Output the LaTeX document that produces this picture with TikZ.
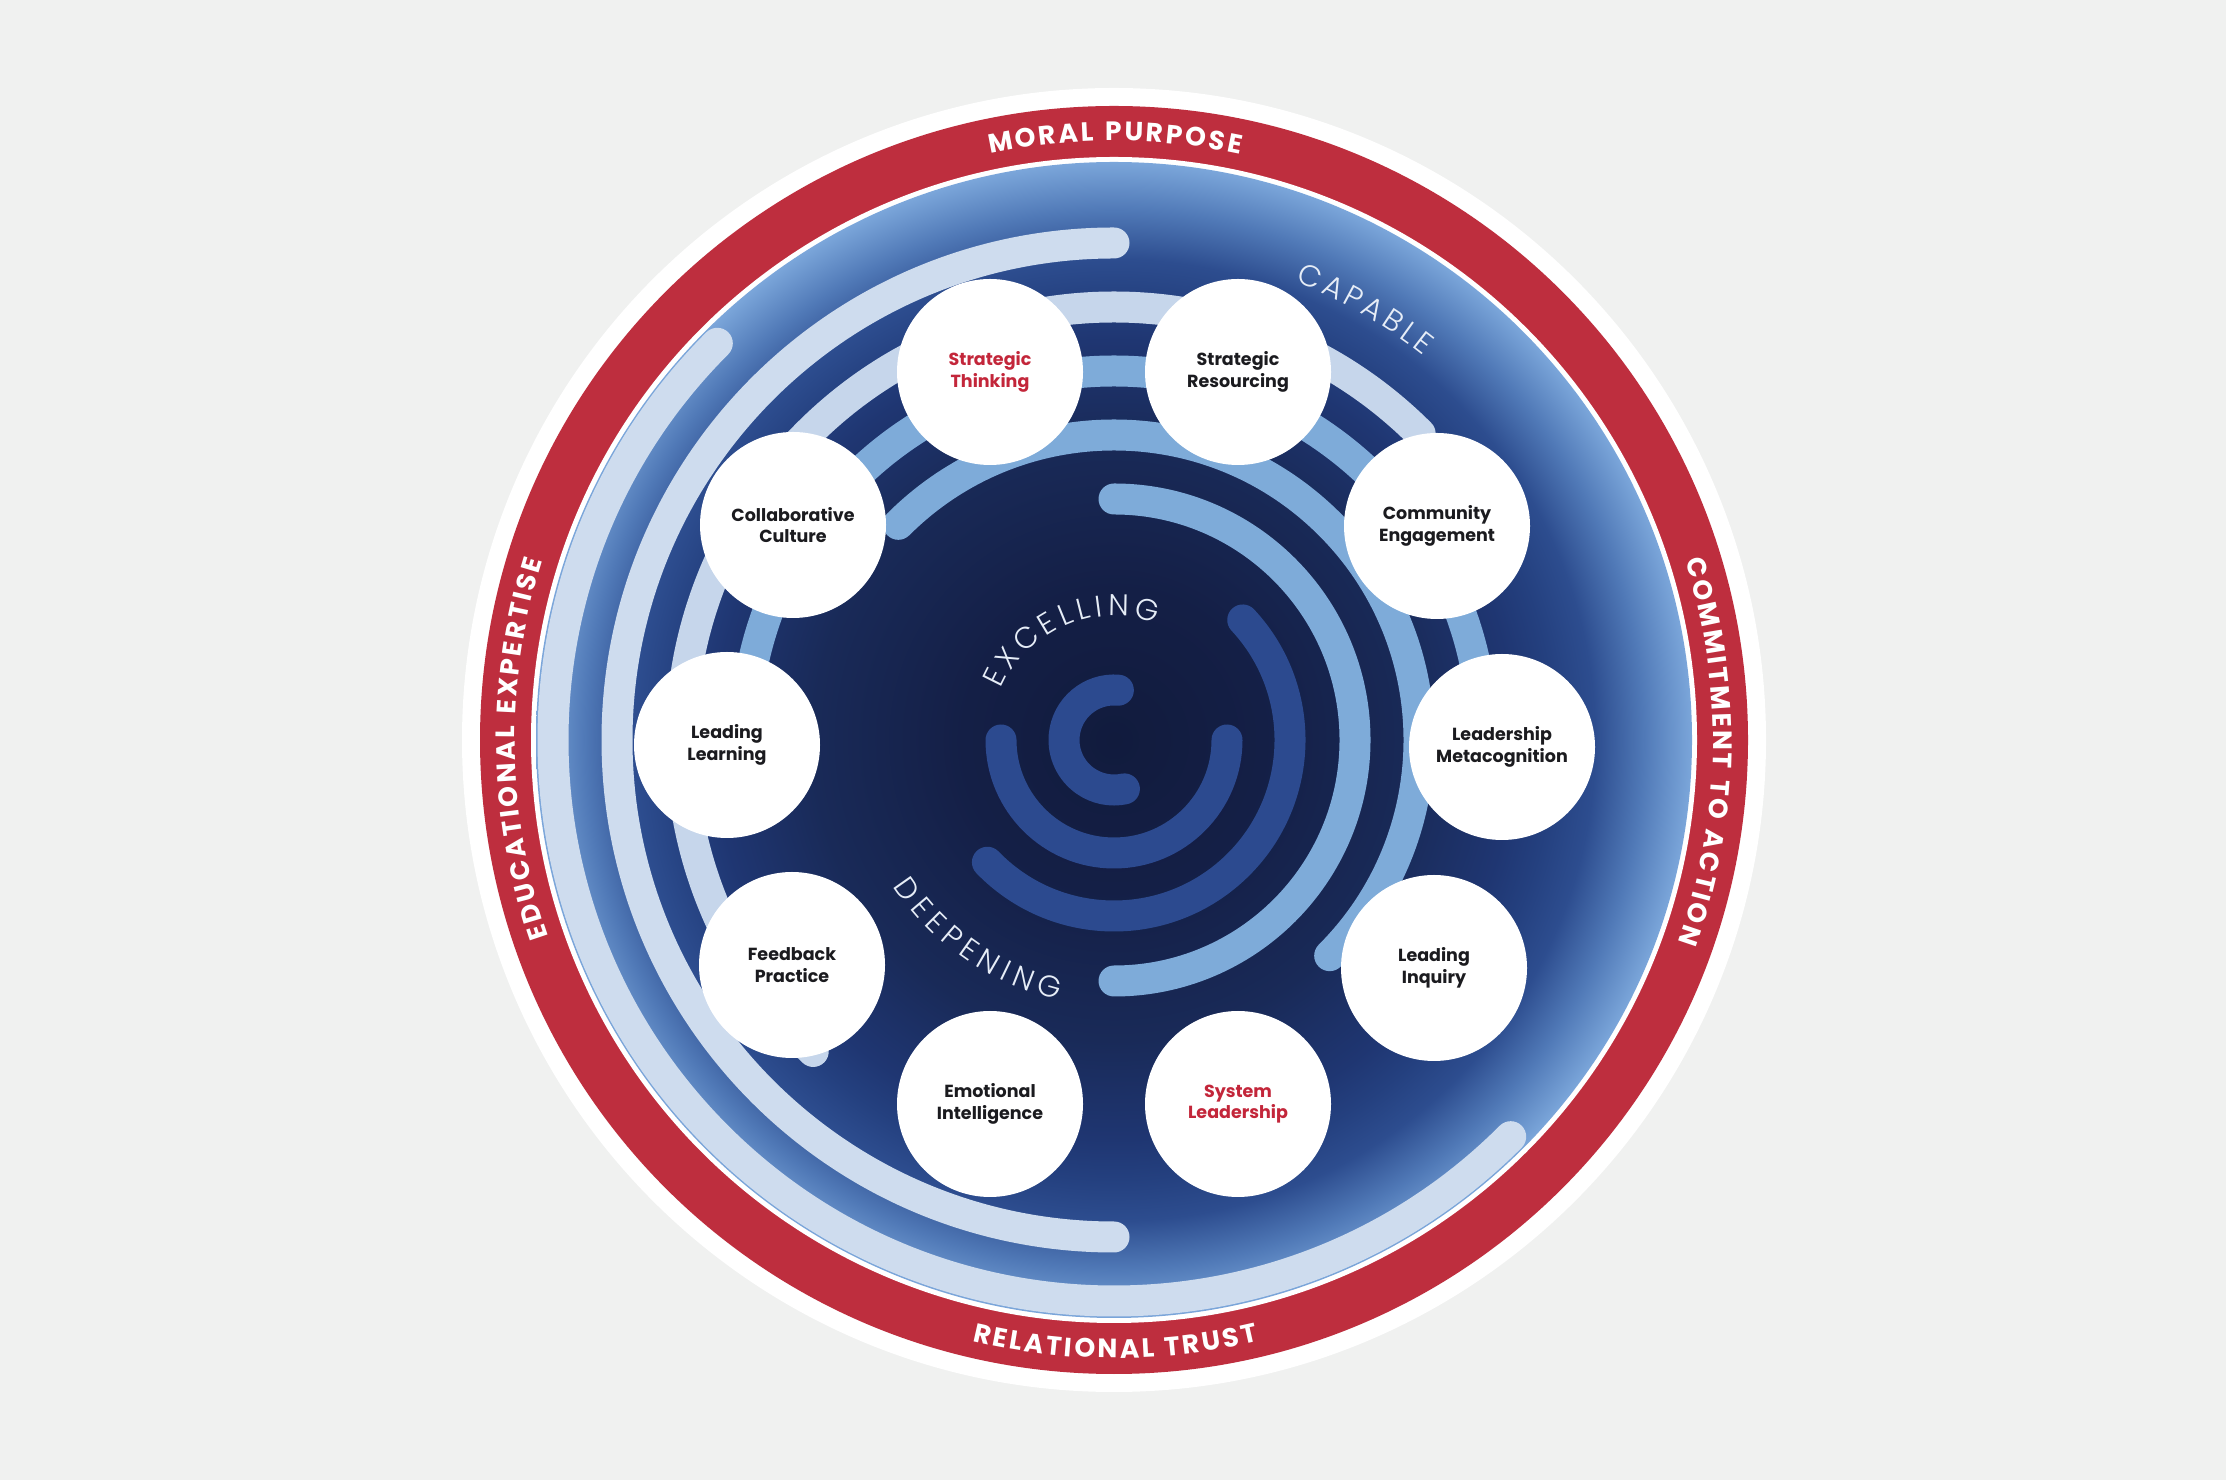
\documentclass[tikz,border=0pt]{standalone}
\usepackage{fontspec}
\setmainfont{Poppins}
\newfontfamily\lightf{Poppins Light}
\usetikzlibrary{decorations.text}
\definecolor{bgc}{HTML}{F0F1F0}
\definecolor{ringred}{HTML}{BE2E3E}
\definecolor{pale}{HTML}{CEDCEE}
\definecolor{paleb}{HTML}{C6D6EB}
\definecolor{lightb}{HTML}{7EABD9}
\definecolor{midb}{HTML}{2C4A8F}
\definecolor{txtred}{HTML}{C3263A}
\definecolor{txtdark}{HTML}{1B1B1F}
\definecolor{lbl}{HTML}{E6EDF7}
\definecolor{s0}{HTML}{111B3D}
\definecolor{s1}{HTML}{141F46}
\definecolor{s2}{HTML}{192A58}
\definecolor{s3}{HTML}{1F3672}
\definecolor{s4}{HTML}{24407F}
\definecolor{s5}{HTML}{2D4D8F}
\definecolor{s6}{HTML}{5079B7}
\definecolor{s7}{HTML}{7BA6DA}
\pgfdeclareradialshading{bluedisc}{\pgfpointorigin}{color(0bp)=(s0); color(6.5bp)=(s1); color(13bp)=(s2); color(17.3bp)=(s3); color(19bp)=(s4); color(20.8bp)=(s5); color(22.9bp)=(s6); color(25bp)=(s7); color(50bp)=(s7)}
\newcommand\ringfmt{\color{white}\bfseries\fontsize{26.5}{26.5}\selectfont\kern2.6pt}
\newcommand\lblfmt{\color{lbl}\lightf\fontsize{30}{30}\selectfont\kern4pt}
\newcommand\lblfmtx{\color{lbl}\lightf\fontsize{30}{30}\selectfont\kern4.8pt}
\newcommand\lblfmtw{\color{lbl}\lightf\fontsize{30}{30}\selectfont\kern6.3pt}
\tikzset{
  arcpale/.style={line width=31pt, line cap=round, draw=pale},
  arcpaleb/.style={line width=31pt, line cap=round, draw=paleb},
  arclight/.style={line width=31pt, line cap=round, draw=lightb},
  arcmid/.style={line width=31pt, line cap=round, draw=midb},
  bubble/.style={circle, fill=white, minimum size=186pt, inner sep=0pt, align=center,
    font=\bfseries\fontsize{17.5}{21.5}\selectfont, text=txtdark},
  curvetext/.style={decorate, decoration={text along path, text align=center, text={#1}}}
}
\begin{document}
\begin{tikzpicture}[x=1pt,y=1pt]
\useasboundingbox (0,0) rectangle (2226,1480);
\fill[bgc] (0,0) rectangle (2226,1480);
\begin{scope}[shift={(1114,740)}]
\fill[white] (0,0) circle (652);
\fill[ringred] (0,0) circle (634);
\fill[white] (0,0) circle (583);
\shade[shading=bluedisc] (0,0) circle (578);
% arcs
\draw[arcpale] (135:561) arc[start angle=135, end angle=315, radius=561];
\draw[arcpale] (90:497) arc[start angle=90, end angle=270, radius=497];
\draw[arcpaleb] (45:433) arc[start angle=45, end angle=226, radius=433];
\draw[arclight] (180:369) arc[start angle=180, end angle=0, radius=369];
\draw[arclight] (135:305) arc[start angle=135, end angle=-45, radius=305];
\draw[arclight] (90:241) arc[start angle=90, end angle=-90, radius=241];
\draw[arcmid] (43:176) arc[start angle=43, end angle=-136, radius=176];
\draw[arcmid] (180:113) arc[start angle=180, end angle=360, radius=113];
\draw[arcmid] (85:50) arc[start angle=85, end angle=282, radius=50];
% bubbles
\node[bubble] (lm) at (388,-7) {Leadership\\Metacognition};
\node[bubble] (ce) at (323,214) {Community\\Engagement};
\node[bubble] (sr) at (124,368) {Strategic\\Resourcing};
\node[bubble, text=txtred] (st) at (-124,368) {Strategic\\Thinking};
\node[bubble] (cc) at (-321,215) {Collaborative\\Culture};
\node[bubble] (ll) at (-387,-5) {Leading\\Learning};
\node[bubble] (fp) at (-322,-225) {Feedback\\Practice};
\node[bubble] (ei) at (-124,-364) {Emotional\\Intelligence};
\node[bubble, text=txtred] (sl) at (124,-364) {System\\Leadership};
\node[bubble] (li) at (320,-228) {Leading\\Inquiry};
% ring texts
\path[curvetext={|\ringfmt|MORAL PURPOSE}] (150:599) arc[start angle=150, end angle=30, radius=599];
\path[curvetext={|\ringfmt|COMMITMENT TO ACTION}] (59:599) arc[start angle=59, end angle=-61, radius=599];
\path[curvetext={|\ringfmt|EDUCATIONAL EXPERTISE}] (241:599) arc[start angle=241, end angle=121, radius=599];
\path[curvetext={|\ringfmt|RELATIONAL TRUST}] (210:618) arc[start angle=210, end angle=330, radius=618];
% level labels
\path[curvetext={|\lblfmt|CAPABLE}] (100:493) arc[start angle=100, end angle=20, radius=493];
\path[curvetext={|\lblfmtx|EXCELLING}] (174:124) arc[start angle=174, end angle=54, radius=124];
\path[curvetext={|\lblfmtw|DEEPENING}] (175:265) arc[start angle=175, end angle=295, radius=265];
\end{scope}
\end{tikzpicture}
\end{document}
